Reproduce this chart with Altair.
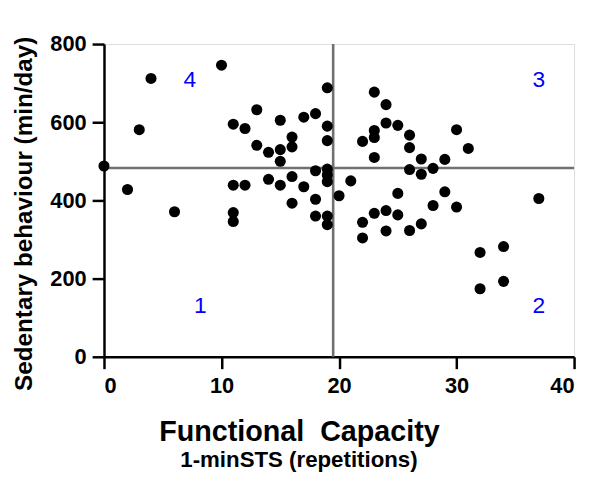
import altair as alt
import pandas as pd

# 1-minSTS repetitions (x) and sedentary behaviour min/day (y)
reps = [0, 2, 3, 4, 6, 10,
        11, 11, 11, 11, 12, 12, 13, 13, 14, 14,
        15, 15, 15, 15, 16, 16, 16, 16, 17, 17,
        18, 18, 18, 18, 19, 19, 19, 19, 19, 19, 19, 19,
        20, 21, 22, 22, 22, 23, 23, 23, 23, 23,
        24, 24, 24, 24, 25, 25, 25, 26, 26, 26, 26,
        27, 27, 27, 28, 28, 29, 29, 30, 30, 31,
        32, 32, 34, 34, 37]
sed = [488, 428, 581, 712, 371, 746,
       595, 439, 369, 346, 584, 439, 632, 541, 523, 454,
       605, 530, 500, 439, 562, 537, 461, 393, 613, 435,
       622, 476, 403, 360, 688, 590, 553, 480, 465, 448, 360, 338,
       412, 450, 551, 344, 304, 677, 579, 561, 510, 367,
       645, 598, 374, 322, 592, 418, 363, 567, 535, 479, 323,
       506, 467, 340, 482, 387, 505, 422, 581, 383, 533,
       267, 174, 282, 193, 405]

# cut points (median split)
cut_x = [19.5]
cut_y = [483]

# quadrant labels
quad_label = ["1", "2", "3", "4"]
quad_x = [8.2, 37.0, 37.0, 7.3]
quad_y = [130, 130, 707, 707]

x_ticks = [0, 10, 20, 30, 40]
y_ticks = [0, 200, 400, 600, 800]

x_subtitle = ["1-minSTS (repetitions)"]

FONT = "Liberation Sans"

pts = pd.DataFrame({"x": reps, "y": sed})
vline = pd.DataFrame({"x": cut_x, "y": [0], "y2": [800]})
hline = pd.DataFrame({"y": cut_y, "x": [0], "x2": [40]})
quads = pd.DataFrame({"x": quad_x, "y": quad_y, "t": quad_label})
sub = pd.DataFrame({"t": x_subtitle})

xscale = alt.Scale(domain=[0, 40], nice=False, zero=False)
yscale = alt.Scale(domain=[0, 800], nice=False, zero=False)

xaxis = alt.Axis(values=x_ticks, grid=False, title="Functional\u00a0 Capacity",
                 titleFont=FONT, titleFontSize=29, titleFontWeight="bold",
                 titleColor="black", titleX=197, titleY=85,
                 titleBaseline="alphabetic", titleAlign="center",
                 labelFont=FONT, labelFontSize=22, labelFontWeight="bold",
                 labelColor="black", labelPadding=7,
                 domainColor="black", domainWidth=2.5,
                 tickColor="black", tickWidth=2.5, tickSize=12)
yaxis = alt.Axis(values=y_ticks, grid=False, title="Sedentary behaviour (min/day)",
                 titleFont=FONT, titleFontSize=24.5, titleFontWeight="bold",
                 titleColor="black", titleX=-73, titleY=171, titleAngle=270,
                 titleBaseline="alphabetic", titleAlign="center",
                 labelFont=FONT, labelFontSize=22, labelFontWeight="bold",
                 labelColor="black", labelPadding=6,
                 domainColor="black", domainWidth=2.5,
                 tickColor="black", tickWidth=2.5, tickSize=12)

X = alt.X("x:Q", scale=xscale, axis=xaxis)
Y = alt.Y("y:Q", scale=yscale, axis=yaxis)

v_rule = alt.Chart(vline).mark_rule(color="#707070", strokeWidth=2.6).encode(
    x=X, y=Y, y2="y2:Q")
h_rule = alt.Chart(hline).mark_rule(color="#707070", strokeWidth=2.6).encode(
    x=X, x2="x2:Q", y=Y)
points = alt.Chart(pts).mark_circle(size=125, color="black", opacity=1).encode(
    x=X, y=Y)
labels = alt.Chart(quads).mark_text(font=FONT, fontSize=23, color="#0000ff",
                                    align="center", baseline="middle").encode(
    x=X, y=Y, text="t:N")
subtitle = alt.Chart(sub).mark_text(font=FONT, fontSize=22.5, fontWeight="bold",
                                    color="black", align="center",
                                    baseline="alphabetic").encode(
    x=alt.value(197), y=alt.value(427), text="t:N")

chart = alt.layer(v_rule, h_rule, points, labels, subtitle).properties(
    width=475, height=316,
    autosize=alt.AutoSizeParams(type="none"),
    padding={"left": 97, "top": 34, "right": 8, "bottom": 116},
).configure_view(stroke=None).configure(background="white")

chart.save("out.html", embed_options={"renderer": "svg", "actions": False})
